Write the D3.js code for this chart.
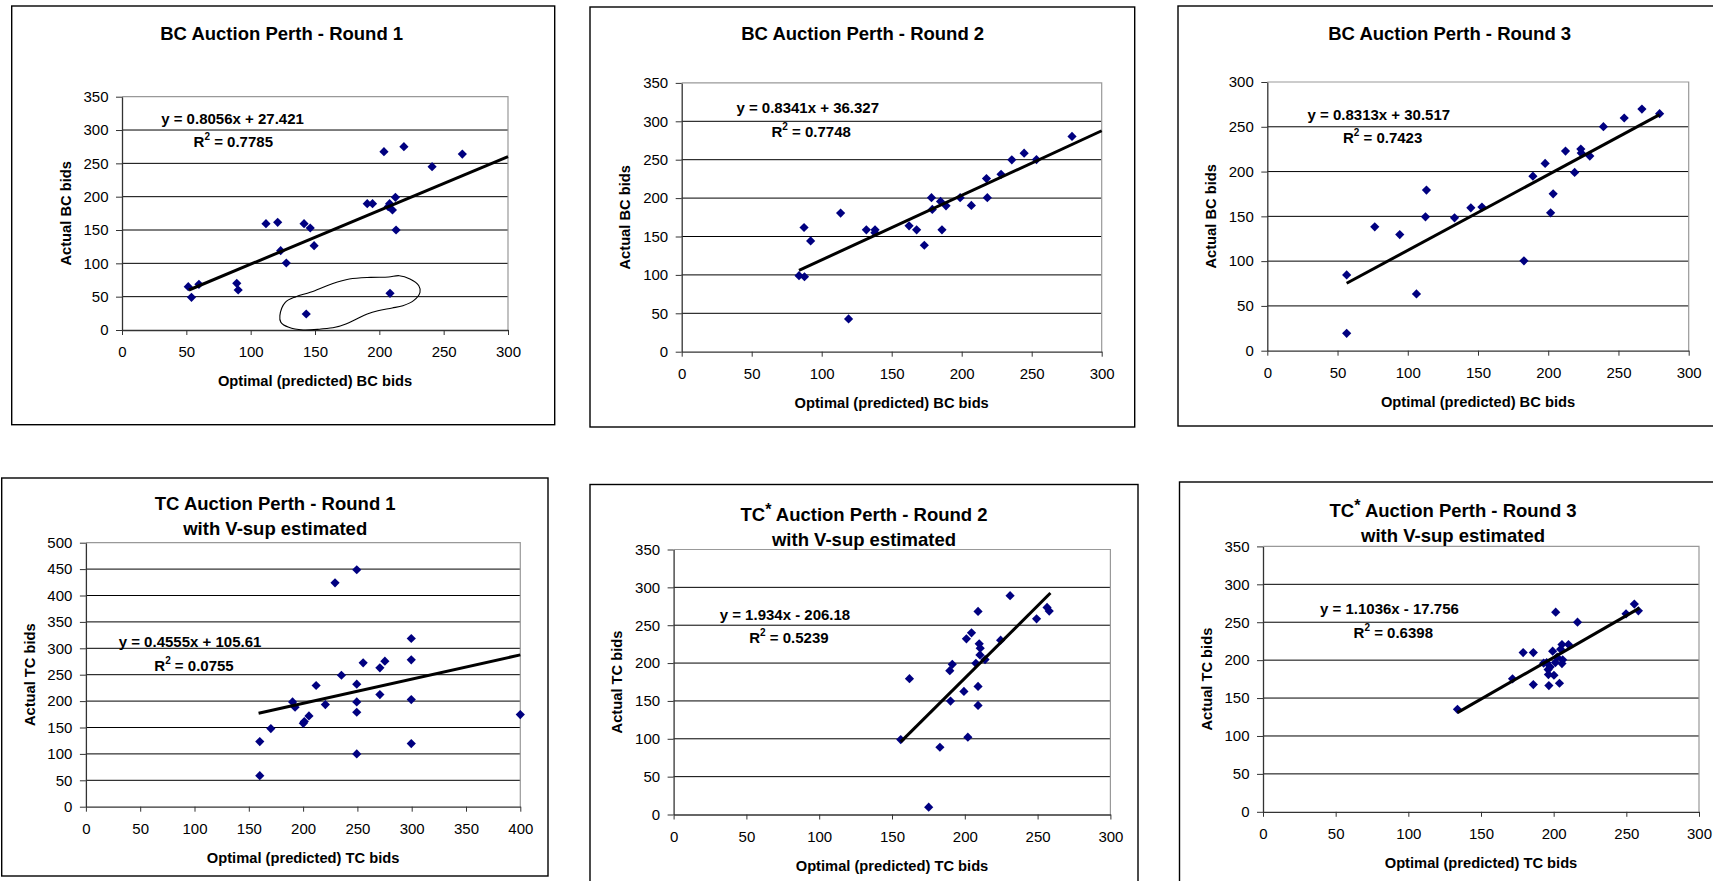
<!DOCTYPE html>
<html>
<head>
<meta charset="utf-8">
<script src="https://cdn.jsdelivr.net/npm/d3@7"></script>
<style>
  html, body { margin: 0; padding: 0; background: #fff; }
  svg { display: block; }
  text { font-family: "Liberation Sans", Arial, sans-serif; fill: #000; }
</style>
</head>
<body>
<svg id="chart" width="1713" height="881"></svg>
<script>
// ---------------- data ----------------
const titleLines = [
  ["BC Auction Perth - Round 1"],
  ["BC Auction Perth - Round 2"],
  ["BC Auction Perth - Round 3"],
  ["TC Auction Perth - Round 1", "with V-sup estimated"],
  ["TC* Auction Perth - Round 2", "with V-sup estimated"],
  ["TC* Auction Perth - Round 3", "with V-sup estimated"]
];
const xTitles = ["Optimal (predicted) BC bids", "Optimal (predicted) BC bids", "Optimal (predicted) BC bids",
                 "Optimal (predicted) TC bids", "Optimal (predicted) TC bids", "Optimal (predicted) TC bids"];
const yTitles = ["Actual BC bids", "Actual BC bids", "Actual BC bids",
                 "Actual TC bids", "Actual TC bids", "Actual TC bids"];
const equations = ["y = 0.8056x + 27.421", "y = 0.8341x + 36.327", "y = 0.8313x + 30.517",
                   "y = 0.4555x + 105.61", "y = 1.934x - 206.18", "y = 1.1036x - 17.756"];
const rSquared = ["0.7785", "0.7748", "0.7423", "0.0755", "0.5239", "0.6398"];

const xTicks = [
  [0, 50, 100, 150, 200, 250, 300],
  [0, 50, 100, 150, 200, 250, 300],
  [0, 50, 100, 150, 200, 250, 300],
  [0, 50, 100, 150, 200, 250, 300, 350, 400],
  [0, 50, 100, 150, 200, 250, 300],
  [0, 50, 100, 150, 200, 250, 300]
];
const yTicks = [
  [0, 50, 100, 150, 200, 250, 300, 350],
  [0, 50, 100, 150, 200, 250, 300, 350],
  [0, 50, 100, 150, 200, 250, 300],
  [0, 50, 100, 150, 200, 250, 300, 350, 400, 450, 500],
  [0, 50, 100, 150, 200, 250, 300, 350],
  [0, 50, 100, 150, 200, 250, 300, 350]
];

const bcRound1 = [[51.5,65],[54,49],[59.8,68.5],[89.2,70],[90.3,60],[111.9,159.5],[121,161.5],[123.3,119],
  [127.7,100.5],[141.5,159.5],[146.3,153],[149.3,126.5],[143.2,24],[190.6,189.5],[194.7,189.5],[203.6,267.5],
  [219.1,275],[208,189.5],[206.9,185],[210.2,180],[212.5,199],[213,150],[208.3,55],[241,245],[264.5,264]];
const bcRound2 = [[83.8,99],[87.7,97.6],[87.4,161.7],[92.1,144.3],[113.5,180.5],[119.2,42.7],[131.9,158.7],
  [138.1,158.7],[138,155],[162.4,163.9],[167.8,158.7],[173.3,138.6],[178.4,200.5],[179,185.3],[184.9,195.7],
  [185.9,158.7],[188.8,190],[198.9,200.5],[206.9,190.5],[217.7,225.4],[218.3,200.5],[228.1,231],[235.8,249.8],
  [244.6,258.5],[253.4,250.2],[278.8,280.3]];
const bcRound3 = [[56.5,84.6],[56.5,19.4],[76.5,138.3],[94.3,129.7],[106.2,63.4],[112.6,149.5],[113.3,179.3],
  [133.3,148.3],[144.9,159.5],[152.8,160.3],[182.7,100.3],[189.1,194.9],[197.8,209.1],[201.7,153.9],[203.5,175.2],
  [212.3,222.9],[218.8,199],[223.2,225.1],[223.5,220.6],[229.6,217.3],[239.3,250.1],[254.1,259.8],[266.7,269.8],
  [279.3,264.6]];
const tcRound1 = [[160.1,58.8],[160.1,123.3],[170.3,147.9],[190.3,198.5],[192.6,188.4],[200.2,158],[201.1,161.2],
  [205.4,171.9],[212,229.5],[220.5,193.4],[229.4,424.1],[235.3,249],[249.4,448.8],[249.4,232],[249.4,198.5],
  [249.4,178.9],[249.4,99.9],[255.3,272.4],[270.7,263],[270.7,212.4],[275.3,275.6],[299.6,318.6],[299.6,278.1],
  [299.6,202.9],[299.6,119.5],[400,174.5]];
const tcRound2 = [[156,99],[162,179.4],[175.2,9.7],[182.9,88.8],[189.7,190],[190.2,149.8],[191.4,198.4],
  [199.4,162.6],[201.1,232],[202.1,102.1],[204.6,240],[207.6,199.7],[209.1,268.2],[209.1,169.2],[209.1,144.1],
  [209.9,225.4],[210.6,219.6],[210.4,210.8],[213.9,204.6],[224.6,230.2],[231.1,289],[249.3,258.5],[256.5,273.5],
  [258,268.7]];
const tcRound3 = [[133.8,135.2],[171.7,175.3],[179,210],[186,210],[186,167.8],[193.1,196],[195.2,196.8],
  [196.4,181],[196.2,187.6],[196.7,166.4],[197.6,191.1],[199.3,211.8],[200.2,180.1],[201.2,196.8],[201.4,263.3],
  [202.4,203.9],[204,169.5],[204.8,214.4],[205.7,220.6],[205.7,195.5],[206.2,200.4],[210.2,220.6],[216.4,250.1],
  [249.8,261.1],[255.5,273.9],[258.3,265.1]];
const seriesPoints = [bcRound1, bcRound2, bcRound3, tcRound1, tcRound2, tcRound3];

// trend-line end points (as drawn)
const trendLines = [
  [[52, 60], [300, 260]],
  [[83.8, 105.9], [300, 287.7]],
  [[56.5, 75.3], [279.3, 263.5]],
  [[159, 177], [400, 287.5]],
  [[156, 95.9], [258.8, 292.5]],
  [[133.8, 130.8], [259, 268.6]]
];

// hand-drawn loop around two outliers in panel 1 (data coordinates)
const outlierLoop = [[122.7,21.5],[126.9,41.5],[135.2,50],[146.3,56.5],[162.9,69],[176.7,76.5],[193.3,79],
  [207.2,79.5],[215.5,81.5],[223.8,76.5],[230.7,66.5],[231.6,56.5],[226.6,44],[218.3,36.5],[210,33],
  [198.9,29],[190.6,24],[182.3,16.5],[174,9],[165.6,4],[154.6,1.5],[140.7,0],[129.6,4],[123.5,11.5]];

// ---------------- layout (pixels) ----------------
const layout = [
  {box:[11.7,6,554.7,424.7],   plot:[122,96.7,508,330],        title:[281.7,40],   eq:[161.2,124],   r2:[193.6,146.7]},
  {box:[590,7,1134.7,427],     plot:[681.7,82.9,1101.7,351.7], title:[862.7,40.4], eq:[736.4,113.1], r2:[771.5,136.5]},
  {box:[1178,6,1721,426],      plot:[1267.3,82,1688.7,350.7],  title:[1449.7,39.6],eq:[1307.5,119.7],r2:[1342.9,142.5]},
  {box:[1.7,478,548,876],      plot:[85.9,542.7,520.3,806.7],  title:[275.2,510.3],eq:[118.7,647.1], r2:[154.3,671.1]},
  {box:[590,484.5,1138,895],   plot:[673.6,549.5,1110.4,814.5],title:[864,521],    eq:[719.7,620],   r2:[749.2,643.4]},
  {box:[1179.5,482,1725,895],  plot:[1263,546.4,1699,811.8],   title:[1453.1,517], eq:[1320,613.9],  r2:[1353.6,638.2]}
];

const svg = d3.select("#chart");
const diamond = r => `M0,${-r}L${r},0L0,${r}L${-r},0Z`;

layout.forEach((L, i) => {
  const g = svg.append("g");
  const [bx0, by0, bx1, by1] = L.box;
  g.append("rect").attr("x", bx0).attr("y", by0).attr("width", bx1 - bx0).attr("height", by1 - by0)
    .attr("fill", "#fff").attr("stroke", "#000").attr("stroke-width", 1.4);

  const [px0, py0, px1, py1] = L.plot;
  const xt = xTicks[i], yt = yTicks[i];
  const x = d3.scaleLinear().domain([0, xt[xt.length - 1]]).range([px0, px1]);
  const y = d3.scaleLinear().domain([0, yt[yt.length - 1]]).range([py1, py0]);

  // gridlines
  g.append("g").selectAll("line").data(yt.slice(1, -1)).join("line")
    .attr("x1", px0).attr("x2", px1).attr("y1", d => y(d)).attr("y2", d => y(d))
    .attr("stroke", "#000").attr("stroke-width", 1);
  // plot border (top/right)
  g.append("path").attr("d", `M${px0},${py0}H${px1}V${py1}`)
    .attr("fill", "none").attr("stroke", "#999").attr("stroke-width", 1.2);

  // axes
  const ya = g.append("g").attr("transform", `translate(${px0},0)`)
    .call(d3.axisLeft(y).tickValues(yt).tickSize(6).tickSizeOuter(0).tickPadding(7.5).tickFormat(d3.format("d")));
  const xa = g.append("g").attr("transform", `translate(0,${py1})`)
    .call(d3.axisBottom(x).tickValues(xt).tickSize(5).tickSizeOuter(0).tickPadding(11.5).tickFormat(d3.format("d")));
  [ya, xa].forEach(a => {
    a.select(".domain").attr("stroke", "#333").attr("stroke-width", 1.3);
    a.selectAll(".tick line").attr("stroke", "#333").attr("stroke-width", 1);
    a.selectAll(".tick text").attr("font-size", 15).attr("fill", "#000")
      .style("font-family", '"Liberation Sans", Arial, sans-serif');
  });

  // axis titles
  g.append("text").attr("x", (px0 + px1) / 2).attr("y", py1 + 51).attr("dy", "0.35em")
    .attr("text-anchor", "middle").attr("font-size", 14.7).attr("font-weight", "bold").text(xTitles[i]);
  g.append("text").attr("transform", `translate(${px0 - 56.5},${(py0 + py1) / 2}) rotate(-90)`)
    .attr("dy", "0.35em").attr("text-anchor", "middle").attr("font-size", 14.7).attr("font-weight", "bold")
    .text(yTitles[i]);

  // title
  titleLines[i].forEach((line, k) => {
    const t = g.append("text").attr("x", L.title[0]).attr("y", L.title[1] + k * 25)
      .attr("text-anchor", "middle").attr("font-size", 18.5).attr("font-weight", "bold");
    if (line.startsWith("TC*")) {
      t.append("tspan").text("TC");
      t.append("tspan").attr("dy", -6).attr("font-size", 16).text("*");
      t.append("tspan").attr("dy", 6).text(line.slice(3));
    } else {
      t.text(line);
    }
  });

  // points
  g.append("g").selectAll("path").data(seriesPoints[i]).join("path")
    .attr("d", diamond(4.6))
    .attr("transform", d => `translate(${x(d[0])},${y(d[1])})`)
    .attr("fill", "#000080");

  // trend line
  g.append("path").datum(trendLines[i])
    .attr("d", d3.line().x(d => x(d[0])).y(d => y(d[1])))
    .attr("stroke", "#000").attr("stroke-width", 3).attr("fill", "none");

  // equation & R^2
  g.append("text").attr("x", L.eq[0]).attr("y", L.eq[1]).attr("font-size", 15).attr("font-weight", "bold")
    .attr("xml:space", "preserve").text(equations[i]);
  const r = g.append("text").attr("x", L.r2[0]).attr("y", L.r2[1]).attr("font-size", 15).attr("font-weight", "bold");
  r.append("tspan").text("R");
  r.append("tspan").attr("dy", -7).attr("font-size", 10).text("2");
  r.append("tspan").attr("dy", 7).text(" = " + rSquared[i]);

  if (i === 0) {
    g.append("path").datum(outlierLoop)
      .attr("d", d3.line().x(d => x(d[0])).y(d => y(d[1])).curve(d3.curveCatmullRomClosed))
      .attr("fill", "none").attr("stroke", "#000").attr("stroke-width", 1.1);
  }
});
</script>
</body>
</html>
